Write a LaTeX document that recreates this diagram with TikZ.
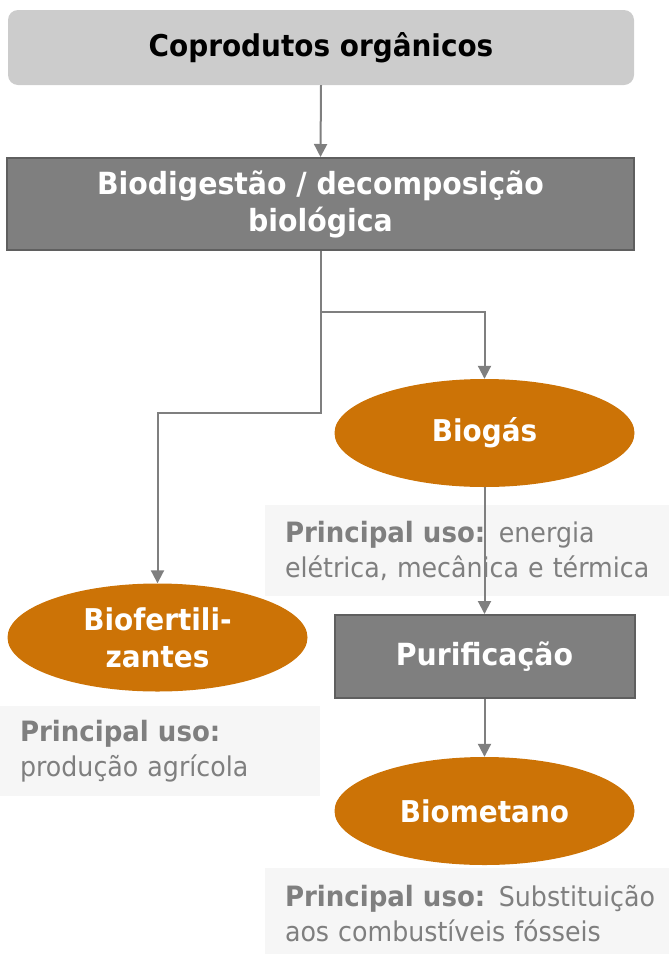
\documentclass[tikz,border=0pt]{standalone}
\usepackage{fontspec}
\setmainfont{DejaVu Sans}[FakeStretch=0.93]
\usetikzlibrary{arrows.meta,shapes.geometric}
\definecolor{orng}{HTML}{CC7306}
\definecolor{boxgray}{HTML}{7F7F7F}
\definecolor{boxedge}{HTML}{5F5F5F}
\definecolor{topgray}{HTML}{CCCCCC}
\definecolor{infofill}{HTML}{F6F6F6}
\definecolor{infotext}{HTML}{7F7F7F}
\definecolor{linegray}{HTML}{7F7F7F}
\newcommand{\usolabel}{{\fontsize{28}{35}\selectfont\bfseries Principal uso:}}
\tikzset{
  topbox/.style={rectangle, rounded corners=10pt, fill=topgray, minimum width=626pt, minimum height=75pt, inner sep=0pt, font=\fontsize{30}{37}\selectfont\bfseries, text=black},
  graybox/.style={rectangle, fill=boxgray, draw=boxedge, line width=2pt, inner sep=0pt, text=white, align=center, font=\fontsize{30.5}{37}\selectfont\bfseries},
  oval/.style={ellipse, fill=orng, minimum width=300pt, minimum height=108pt, inner sep=0pt, text=white, align=center, font=\fontsize{30}{37}\selectfont\bfseries},
  infobox/.style={rectangle, fill=infofill, inner xsep=20pt, inner ysep=0pt, align=left, text=infotext, font=\fontsize{27.2}{35}\selectfont},
  conn/.style={draw=linegray, line width=2pt, -{Triangle[width=13pt,length=13pt]}}
}
\begin{document}
\begin{tikzpicture}[x=1pt,y=-1pt]
\useasboundingbox (0,0) rectangle (669,954);
\node[topbox] (cop) at (321,47.5) {Coprodutos orgânicos};
\node[graybox, minimum width=627pt, minimum height=92pt] (bio) at (320.5,204) {Biodigestão / decomposição\\biológica};
\node[oval] (biogas) at (484.5,433) {Biogás};
\node[oval] (biofert) at (157.5,637.5) {Biofertili-\\zantes};
\node[infobox, text width=380pt, minimum height=91pt] (info1) at (475,550.5) {\usolabel{} energia\\elétrica, mecânica e térmica};
\node[graybox, minimum width=300pt, minimum height=83pt] (puri) at (484.5,656.5) {Purificação};
\node[infobox, text width=280pt, minimum height=90pt] (info2) at (160,751) {\usolabel\\produção agrícola};
\node[oval] (biomet) at (484.5,811) {Biometano};
\node[infobox, text width=380pt, minimum height=92pt] (info3) at (475,914) {\usolabel{} Substituição\\aos combustíveis fósseis};
\coordinate (j1) at (321,312);
\coordinate (j2) at (321,413);
\draw[conn] (cop.south) -- (bio.north);
\draw[conn] (bio.south -| j1) -- (j1) -| (biogas.north);
\draw[conn] (j1) -- (j2) -| (biofert.north);
\draw[conn] (biogas.south) -- (puri.north);
\draw[conn] (puri.south) -- (biomet.north);
\end{tikzpicture}
\end{document}
